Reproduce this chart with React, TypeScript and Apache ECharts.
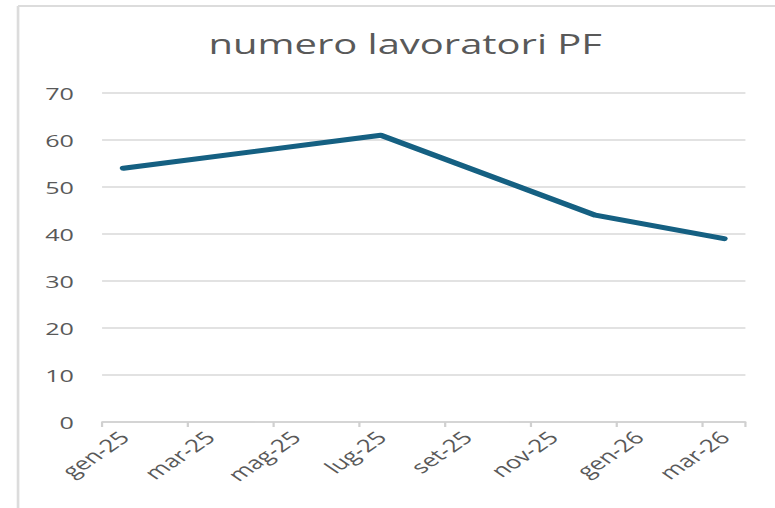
import React, { useEffect, useRef } from "react";
import * as echarts from "echarts";

const titleText = "numero lavoratori PF";
const months = [
  "gen-25", "feb-25", "mar-25", "apr-25", "mag-25", "giu-25", "lug-25", "ago-25",
  "set-25", "ott-25", "nov-25", "dic-25", "gen-26", "feb-26", "mar-26",
];
const workers: (number | null)[] = [54, null, null, null, null, null, 61, null, null, null, null, 44, null, null, 39];
const yTicks = { min: 0, max: 70, step: 10 };

const OUTER_W = 775;
const INNER_W = 524;
const H = 508;
const SX = OUTER_W / INNER_W;

export default function App() {
  const ref = useRef<HTMLDivElement>(null);
  useEffect(() => {
    if (!ref.current) return;
    const chart = echarts.init(ref.current, undefined, { renderer: "svg" });
    const font = "'Open Sans', 'Noto Sans', sans-serif";
    chart.setOption({
      animation: false,
      backgroundColor: "#ffffff",
      title: {
        text: titleText,
        left: 269,
        textAlign: "center",
        top: 25,
        textStyle: { fontFamily: font, fontSize: 27, fontWeight: "normal", color: "#595959" },
      },
      grid: { left: 69, right: 20, top: 93, bottom: 86, containLabel: false },
      xAxis: {
        type: "category",
        data: months,
        boundaryGap: true,
        axisLine: { show: true, lineStyle: { color: "#d0d0d0", width: 1.5 } },
        axisTick: { show: true, interval: 1, length: 5, alignWithLabel: false, lineStyle: { color: "#d0d0d0", width: 1.5 } },
        axisLabel: { interval: 1, rotate: 45, margin: 12, color: "#595959", fontFamily: font, fontSize: 17.5 },
        splitLine: { show: false },
      },
      yAxis: {
        type: "value",
        min: yTicks.min,
        max: yTicks.max,
        interval: yTicks.step,
        axisLine: { show: false },
        axisTick: { show: false },
        axisLabel: { margin: 19, color: "#595959", fontFamily: font, fontSize: 17 },
        splitLine: { lineStyle: { color: "#d9d9d9", width: 1.5 } },
      },
      series: [
        {
          type: "line",
          data: workers,
          connectNulls: true,
          showSymbol: false,
          symbol: "none",
          lineStyle: { color: "#156082", width: 5, cap: "round", join: "round" },
        },
      ],
      graphic: [
        { type: "line", shape: { x1: 12.2, y1: 6, x2: INNER_W, y2: 6 }, style: { stroke: "#dcdcdc", lineWidth: 2 } },
        { type: "line", shape: { x1: 12.2, y1: 6, x2: 12.2, y2: H }, style: { stroke: "#dcdcdc", lineWidth: 1.8 } },
      ],
    });
    return () => chart.dispose();
  }, []);
  return (
    <div style={{ position: "absolute", left: 0, top: 0, width: OUTER_W, height: H, overflow: "hidden", background: "#fff" }}>
      <div
        ref={ref}
        style={{ width: INNER_W, height: H, transform: `scaleX(${SX})`, transformOrigin: "0 0" }}
      />
    </div>
  );
}
